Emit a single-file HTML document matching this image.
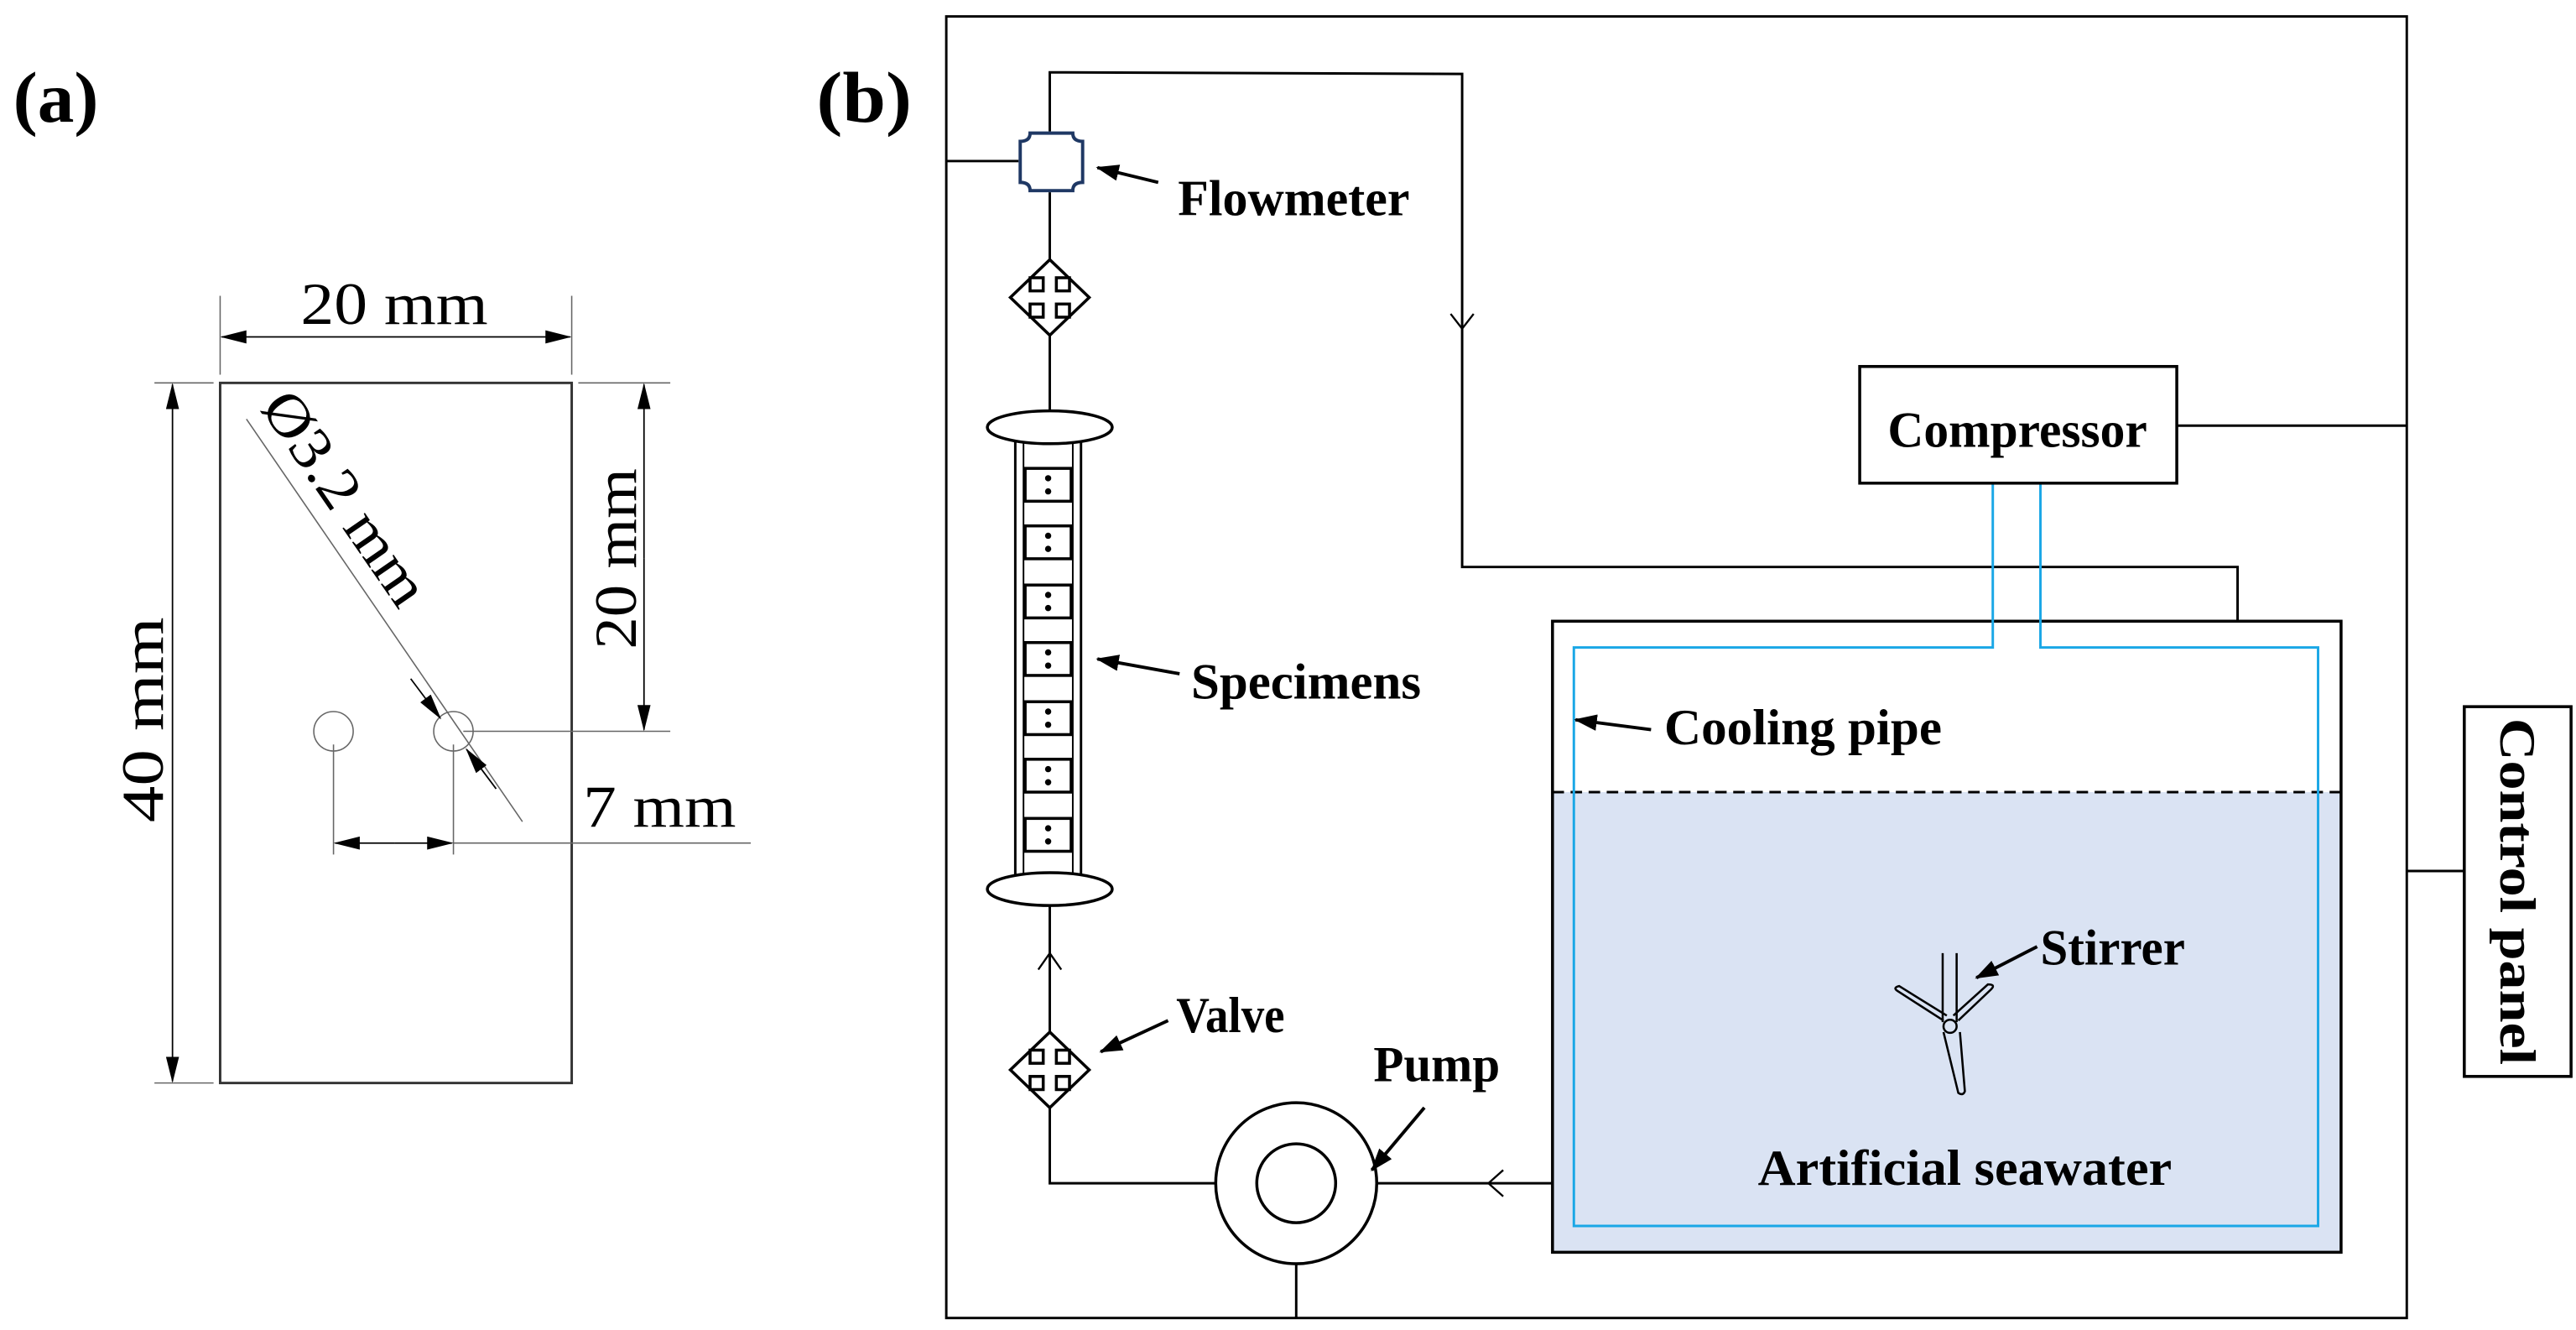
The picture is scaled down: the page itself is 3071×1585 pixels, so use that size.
<!DOCTYPE html>
<html><head><meta charset="utf-8"><style>
html,body{margin:0;padding:0;background:#fff;}
svg{display:block;}
text{font-family:"Liberation Serif",serif;}
</style></head><body>
<svg width="3071" height="1585" viewBox="0 0 1568 809.3" preserveAspectRatio="none" xmlns="http://www.w3.org/2000/svg">
<defs>
<marker id="ah" markerWidth="14" markerHeight="10" refX="13" refY="5" orient="auto" markerUnits="userSpaceOnUse"><path d="M0,0 L14,5 L0,10 z" fill="#000"/></marker>
<marker id="as" markerWidth="16" markerHeight="8" refX="15" refY="4" orient="auto" markerUnits="userSpaceOnUse"><path d="M0,0 L16,4 L0,8 z" fill="#000"/></marker>
</defs>
<rect width="1568" height="809.3" fill="#fff"/>
<text x="8" y="74" font-size="44" font-weight="bold" textLength="52" lengthAdjust="spacingAndGlyphs">(a)</text>
<text x="497" y="74" font-size="44" font-weight="bold" textLength="58" lengthAdjust="spacingAndGlyphs">(b)</text>
<g stroke="#000" fill="none">
<rect x="134" y="233" width="214" height="426" stroke-width="1.5" stroke="#333"/>
<g stroke-width="0.8" stroke="#666">
<line x1="134" y1="180" x2="134" y2="228"/><line x1="348" y1="180" x2="348" y2="228"/>
<line x1="94" y1="233" x2="130" y2="233"/><line x1="94" y1="659" x2="130" y2="659"/>
<line x1="352" y1="233" x2="408" y2="233"/><line x1="282" y1="445" x2="408" y2="445"/>
<line x1="203" y1="453" x2="203" y2="520"/><line x1="276" y1="453" x2="276" y2="520"/>
<line x1="276" y1="513" x2="457" y2="513"/>
<line x1="150" y1="255" x2="318" y2="500"/>
<circle cx="203" cy="445" r="12"/><circle cx="276" cy="445" r="12"/>
</g>
<g stroke-width="0.9">
<line x1="241" y1="205" x2="135" y2="205" marker-end="url(#as)"/><line x1="241" y1="205" x2="347" y2="205" marker-end="url(#as)"/>
<line x1="105" y1="446" x2="105" y2="234" marker-end="url(#as)"/><line x1="105" y1="446" x2="105" y2="658" marker-end="url(#as)"/>
<line x1="392" y1="340" x2="392" y2="234" marker-end="url(#as)"/><line x1="392" y1="340" x2="392" y2="444" marker-end="url(#as)"/>
<line x1="240" y1="513" x2="204" y2="513" marker-end="url(#as)"/><line x1="240" y1="513" x2="275" y2="513" marker-end="url(#as)"/>
<line x1="250" y1="413" x2="268" y2="437" marker-end="url(#as)"/>
<line x1="302" y1="480" x2="284" y2="456" marker-end="url(#as)"/>
</g>
</g>
<text x="240" y="197" font-size="36" text-anchor="middle" textLength="114" lengthAdjust="spacingAndGlyphs">20 mm</text>
<text transform="translate(99,438) rotate(-90)" font-size="36" text-anchor="middle" textLength="125" lengthAdjust="spacingAndGlyphs">40 mm</text>
<text transform="translate(387,340) rotate(-90)" font-size="36" text-anchor="middle" textLength="110" lengthAdjust="spacingAndGlyphs">20 mm</text>
<text x="355" y="503" font-size="36" textLength="93" lengthAdjust="spacingAndGlyphs">7 mm</text>
<text transform="translate(158,248) rotate(55.5)" font-size="36" textLength="150" lengthAdjust="spacingAndGlyphs">Ø3.2 mm</text>
<g stroke="#000" fill="none" stroke-width="1.5">
<rect x="576" y="10" width="889" height="792"/>
<line x1="576" y1="98" x2="620" y2="98"/>
<polyline points="639,80 639,44 890,45 890,345 1362,345 1362,378"/>
<polyline points="883,191 890,200 897,191" stroke-width="1.2"/>
<line x1="639" y1="117" x2="639" y2="159"/>
<line x1="639" y1="203" x2="639" y2="250"/>
<line x1="639" y1="551" x2="639" y2="629"/>
<polyline points="632,590 639,580 646,590" stroke-width="1.2"/>
<polyline points="639,673 639,720 740,720"/>
<line x1="789" y1="769" x2="789" y2="802"/>
<line x1="838" y1="720" x2="945" y2="720"/>
<polyline points="915,712 906,720 915,728" stroke-width="1.2"/>
<line x1="1325" y1="259" x2="1465" y2="259"/>
<line x1="1465" y1="530" x2="1500" y2="530"/>
</g>
<path d="M627,81 L653,81 Q653,86 659,86 L659,111 Q653,111 653,116 L627,116 Q627,111 621,111 L621,86 Q627,86 627,81 Z" fill="#fff" stroke="#1f3864" stroke-width="2"/>
<g id="v1">
<path d="M639,158 L663,181 L639,204 L615,181 Z" fill="#fff" stroke="#000" stroke-width="1.8"/>
<g fill="none" stroke="#000" stroke-width="1.8"><rect x="627" y="169" width="8" height="8"/><rect x="643" y="169" width="8" height="8"/><rect x="627" y="185" width="8" height="8"/><rect x="643" y="185" width="8" height="8"/></g>
</g>
<use href="#v1" transform="translate(0,470)"/>
<rect x="618" y="260" width="40" height="281" fill="#fff" stroke="#000" stroke-width="1.5"/>
<line x1="623" y1="265" x2="623" y2="536" stroke="#000" stroke-width="1"/>
<line x1="653" y1="265" x2="653" y2="536" stroke="#000" stroke-width="1"/>
<ellipse cx="639" cy="260" rx="38" ry="10" fill="#fff" stroke="#000" stroke-width="1.8"/>
<ellipse cx="639" cy="541" rx="38" ry="10" fill="#fff" stroke="#000" stroke-width="1.8"/>
<g fill="#fff" stroke="#000" stroke-width="1.8">
<rect x="624" y="285" width="28" height="20"/><rect x="624" y="320" width="28" height="20"/><rect x="624" y="356" width="28" height="20"/><rect x="624" y="391" width="28" height="20"/><rect x="624" y="427" width="28" height="20"/><rect x="624" y="462" width="28" height="20"/><rect x="624" y="498" width="28" height="20"/>
</g>
<g fill="#000">
<circle cx="638" cy="291" r="1.9"/><circle cx="638" cy="299" r="1.9"/>
<circle cx="638" cy="326" r="1.9"/><circle cx="638" cy="334" r="1.9"/>
<circle cx="638" cy="362" r="1.9"/><circle cx="638" cy="370" r="1.9"/>
<circle cx="638" cy="397" r="1.9"/><circle cx="638" cy="405" r="1.9"/>
<circle cx="638" cy="433" r="1.9"/><circle cx="638" cy="441" r="1.9"/>
<circle cx="638" cy="468" r="1.9"/><circle cx="638" cy="476" r="1.9"/>
<circle cx="638" cy="504" r="1.9"/><circle cx="638" cy="512" r="1.9"/>
</g>
<circle cx="789" cy="720" r="49" fill="#fff" stroke="#000" stroke-width="1.8"/>
<circle cx="789" cy="720" r="24" fill="#fff" stroke="#000" stroke-width="1.8"/>
<rect x="945" y="482" width="480" height="280" fill="#dae3f3"/>
<rect x="945" y="378" width="480" height="384" fill="none" stroke="#000" stroke-width="1.8"/>
<line x1="945" y1="482" x2="1425" y2="482" stroke="#000" stroke-width="1.5" stroke-dasharray="7,4"/>
<polyline points="1213,294 1213,394 958,394 958,746 1411,746 1411,394 1242,394 1242,294" fill="none" stroke="#1aa7e6" stroke-width="1.5"/>
<rect x="1132" y="223" width="193" height="71" fill="#fff" stroke="#000" stroke-width="1.8"/>
<rect x="1500" y="430" width="65" height="225" fill="#fff" stroke="#000" stroke-width="1.8"/>
<g fill="none" stroke="#000" stroke-width="1.3">
<line x1="1182.5" y1="580" x2="1182.5" y2="622"/><line x1="1191" y1="580" x2="1191" y2="622"/>
<path d="M1183,621 L1155,603 Q1152,601 1156,600 L1185,618"/>
<path d="M1192,621 L1212,602 Q1215,599 1210,599 L1189,618"/>
<path d="M1183,628 L1192,665 Q1195,667 1196,664 L1193,628"/>
<circle cx="1187" cy="624.5" r="4"/>
</g>
<g stroke="#000" stroke-width="2" fill="none">
<line x1="705" y1="111" x2="668" y2="102" marker-end="url(#ah)"/>
<line x1="718" y1="410" x2="668" y2="401" marker-end="url(#ah)"/>
<line x1="1005" y1="444" x2="959" y2="438" marker-end="url(#ah)"/>
<line x1="711" y1="621" x2="670" y2="640" marker-end="url(#ah)"/>
<line x1="867" y1="674" x2="835" y2="712" marker-end="url(#ah)"/>
<line x1="1240" y1="576" x2="1203" y2="595" marker-end="url(#ah)"/>
</g>
<g font-weight="bold" font-size="31" lengthAdjust="spacingAndGlyphs">
<text x="717" y="131" textLength="141" lengthAdjust="spacingAndGlyphs">Flowmeter</text>
<text x="725" y="425" textLength="140" lengthAdjust="spacingAndGlyphs">Specimens</text>
<text x="1013" y="453" textLength="169" lengthAdjust="spacingAndGlyphs">Cooling pipe</text>
<text x="716" y="628" textLength="66" lengthAdjust="spacingAndGlyphs">Valve</text>
<text x="836" y="658" textLength="77" lengthAdjust="spacingAndGlyphs">Pump</text>
<text x="1242" y="587" textLength="88" lengthAdjust="spacingAndGlyphs">Stirrer</text>
<text x="1070" y="721" textLength="252" lengthAdjust="spacingAndGlyphs">Artificial seawater</text>
<text x="1149" y="272" textLength="158" lengthAdjust="spacingAndGlyphs">Compressor</text>
<text transform="translate(1522,437) rotate(90)" textLength="211" lengthAdjust="spacingAndGlyphs">Control panel</text>
</g>
</svg>
</body></html>
